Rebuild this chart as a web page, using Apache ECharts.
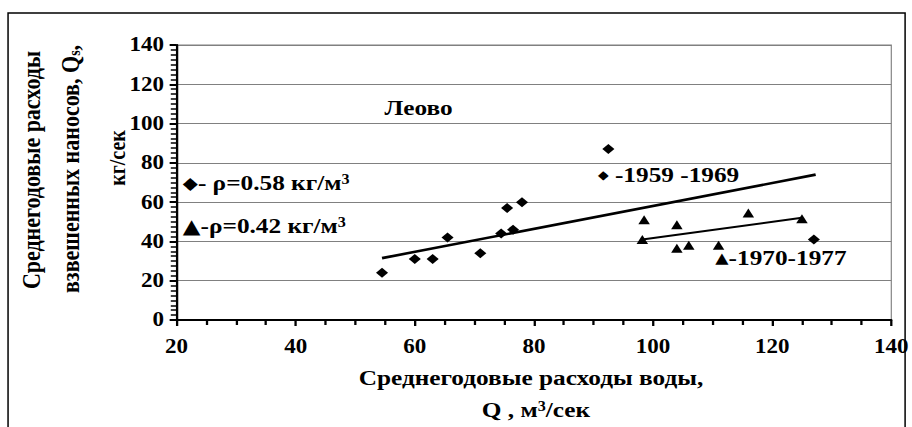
<!DOCTYPE html>
<html>
<head>
<meta charset="utf-8">
<script src="https://cdn.jsdelivr.net/npm/echarts@6/dist/echarts.min.js"></script>
<style>
  html, body { margin: 0; padding: 0; background: #fff; overflow: hidden; width: 912px; height: 427px; }
  /* The figure uses wide-set lettering: draw on a narrower canvas and stretch it horizontally */
  #chart { width: 793px; height: 427px; transform: scaleX(1.15006); transform-origin: 0 0; }
</style>
</head>
<body>
<div id="chart"></div>
<script>
// Леово: mean annual water discharge Q (m3/s) vs suspended sediment discharge Qs (kg/s)

// 1959–1969 (diamonds)
const q1959 = [54.5, 60, 63, 65.5, 71, 74.5, 75.5, 76.5, 78, 92.5, 127];
const qs1959 = [24, 31, 31, 42, 34, 44, 57, 46, 60, 87, 41];

// 1970–1977 (triangles)
const q1970 = [98.5, 98.2, 104, 104, 106, 111, 116, 125];
const qs1970 = [51, 41, 48.5, 36.5, 38, 38, 54.5, 51.5];

// trend line end points
const trendQ1959 = [54.5, 127.3];
const trendQs1959 = [31.5, 74];
const trendQ1970 = [98.2, 125];
const trendQs1970 = [41, 52];

// axis ticks
const xTicks = [20, 40, 60, 80, 100, 120, 140];
const yTicks = [0, 20, 40, 60, 80, 100, 120, 140];

const SERIF = "'Liberation Serif', 'Times New Roman', serif";
const zip = (a, b) => a.map((v, i) => [v, b[i]]);

const chart = echarts.init(document.getElementById('chart'), null, { renderer: 'svg' });

const txt = (x, y, text, size, extra, rot) => ({
  type: 'text', x: x, y: y, rotation: rot || 0, silent: true,
  style: Object.assign({
    text: text, fill: '#000',
    fontFamily: SERIF, fontWeight: 'bold', fontSize: size,
    align: 'center', verticalAlign: 'middle',
    textAlign: 'center', textVerticalAlign: 'middle'
  }, extra || {})
});

const sup = { fontFamily: SERIF, fontWeight: 'bold', fontSize: 14, verticalAlign: 'top' };
const UP = Math.PI / 2;

chart.setOption({
  animation: false,
  backgroundColor: '#fff',
  grid: {
    left: 153.5, right: 17.4, top: 45, bottom: 107,
    show: true, borderColor: '#808080', borderWidth: 1
  },
  xAxis: {
    type: 'value',
    min: xTicks[0], max: xTicks[xTicks.length - 1], interval: 20,
    axisLine: { show: true, lineStyle: { color: '#000', width: 2 } },
    axisTick: { show: true, length: 6, lineStyle: { color: '#000', width: 2 } },
    minorTick: { show: true, splitNumber: 4, length: 5, lineStyle: { color: '#000', width: 2 } },
    splitLine: { show: false },
    axisLabel: { margin: 16, color: '#000', fontFamily: SERIF, fontWeight: 'bold', fontSize: 20 }
  },
  yAxis: {
    type: 'value',
    min: yTicks[0], max: yTicks[yTicks.length - 1], interval: 20,
    axisLine: { show: true, lineStyle: { color: '#000', width: 2 } },
    axisTick: { show: true, length: 6, lineStyle: { color: '#000', width: 2 } },
    minorTick: { show: true, splitNumber: 8, length: 5, lineStyle: { color: '#000', width: 1.5 } },
    splitLine: { show: true, lineStyle: { color: '#808080', width: 1 } },
    axisLabel: { margin: 11, color: '#000', fontFamily: SERIF, fontWeight: 'bold', fontSize: 20 }
  },
  series: [
    {
      type: 'line', data: zip(trendQ1959, trendQs1959),
      symbol: 'none', lineStyle: { color: '#000', width: 2.6 }, z: 3
    },
    {
      type: 'line', data: zip(trendQ1970, trendQs1970),
      symbol: 'none', lineStyle: { color: '#000', width: 2 }, z: 3
    },
    {
      type: 'scatter', data: zip(q1959, qs1959),
      symbol: 'diamond', symbolSize: [10.5, 10],
      itemStyle: { color: '#000', opacity: 1 }, z: 4
    },
    {
      type: 'scatter', data: zip(q1970, qs1970),
      symbol: 'triangle', symbolSize: [10, 9],
      itemStyle: { color: '#000', opacity: 1 }, z: 4
    }
  ],
  graphic: [
    {
      type: 'rect', silent: true,
      shape: { x: 7, y: 13, width: 780, height: 440 },
      style: { fill: 'none', stroke: '#000', lineWidth: 1.3 }
    },
    // vertical axis title
    txt(27, 170, 'Среднегодовые расходы', 22, {}, UP),
    txt(61, 169, 'взвешенных наносов, Q{sub|s},', 22, {
      rich: { sub: { fontFamily: SERIF, fontWeight: 'bold', fontSize: 14, verticalAlign: 'bottom' } }
    }, UP),
    txt(102.6, 158, 'кг/сек', 20, {}, UP),
    // horizontal axis title
    txt(461.7, 378, 'Среднегодовые расходы воды,', 22, {}),
    txt(466, 410, 'Q , м{s|3}/сек', 22, { rich: { s: sup } }),
    // station name
    txt(364, 108, 'Леово', 22, {}),
    // symbol keys
    txt(159, 183, '{d|◆}- ρ=0.58 кг/м{s|3}', 22, {
      align: 'left', textAlign: 'left',
      rich: { d: { fontSize: 17, fontFamily: 'DejaVu Sans' }, s: sup }
    }),
    txt(159, 226, '{t|▲}-ρ=0.42 кг/м{s|3}', 22, {
      align: 'left', textAlign: 'left',
      rich: { t: { fontSize: 20, fontFamily: 'DejaVu Sans' }, s: sup }
    }),
    // period labels
    txt(520, 175, '{d|◆} -1959 -1969', 22, {
      align: 'left', textAlign: 'left',
      rich: { d: { fontSize: 12, fontFamily: 'DejaVu Sans' } }
    }),
    txt(622, 258, '{t|▲}-1970-1977', 22, {
      align: 'left', textAlign: 'left',
      rich: { t: { fontSize: 15, fontFamily: 'DejaVu Sans' } }
    })
  ]
});
</script>
</body>
</html>
